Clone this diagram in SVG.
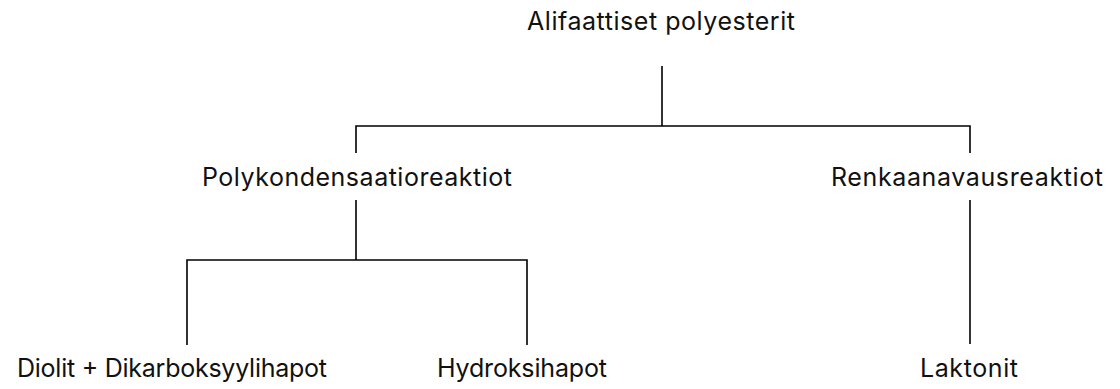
<svg xmlns="http://www.w3.org/2000/svg" width="1120" height="389" viewBox="0 0 1120 389">
<style>
.t{font-family:Inter,"Liberation Sans",sans-serif;font-size:25px;fill:#111;text-anchor:middle}
.c{stroke:#000;stroke-width:1.6;fill:none}
</style>
<rect width="1120" height="389" fill="#fff"/>
<g id="connectors">
<path class="c" d="M662,66V126M356,153V126H970V153"/>
<path class="c" d="M356,200V260M187,345V260H527V345"/>
<path class="c" d="M970,200V344"/>
</g>
<g id="n-root"><text class="t" x="661" y="30" textLength="268" lengthAdjust="spacing">Alifaattiset polyesterit</text></g>
<g id="n-poly"><text class="t" x="357" y="186" textLength="310" lengthAdjust="spacing">Polykondensaatioreaktiot</text></g>
<g id="n-renk"><text class="t" x="967" y="186" textLength="272" lengthAdjust="spacing">Renkaanavausreaktiot</text></g>
<g id="n-diol"><text class="t" x="172" y="377" textLength="310" lengthAdjust="spacing">Diolit + Dikarboksyylihapot</text></g>
<g id="n-hydr"><text class="t" x="522" y="377" textLength="170" lengthAdjust="spacing">Hydroksihapot</text></g>
<g id="n-lakt"><text class="t" x="969" y="377" textLength="98" lengthAdjust="spacing">Laktonit</text></g>
</svg>
